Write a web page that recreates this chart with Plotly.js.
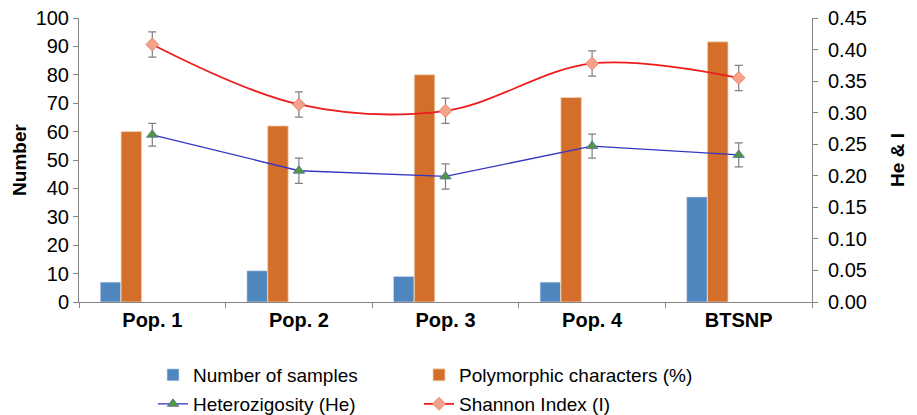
<!DOCTYPE html>
<html>
<head>
<meta charset="utf-8">
<script src="https://cdn.plot.ly/plotly-3.0.1.min.js"></script>
<style>html,body{margin:0;padding:0;background:#fff;}#chart{width:917px;height:415px;}</style>
</head>
<body>
<div id="chart"></div>
<script>
const categories = ["Pop. 1", "Pop. 2", "Pop. 3", "Pop. 4", "BTSNP"];
const numberOfSamples = [7, 11, 9, 7, 37];
const polymorphicChars = [60, 62, 80, 72, 91.6];
const heterozygosity = [0.265, 0.208, 0.199, 0.247, 0.233];
const heErr = [0.018, 0.020, 0.020, 0.019, 0.019];
const shannon = [0.408, 0.313, 0.303, 0.378, 0.355];
const shannonErr = [0.020, 0.020, 0.020, 0.020, 0.020];

const font = "'Liberation Sans', Arial, sans-serif";
const errStyle = {type: 'data', visible: true, color: '#7f7f7f', thickness: 1.2, width: 4};

const traces = [
  {type: 'bar', name: 'Number of samples', x: categories, y: numberOfSamples, legend: 'legend',
   width: 0.14, offset: -0.355, marker: {color: '#4F86BE', line: {color: '#dbe6f2', width: 0.6}}},
  {type: 'bar', name: 'Polymorphic characters (%)', x: categories, y: polymorphicChars, legend: 'legend2',
   width: 0.14, offset: -0.213, marker: {color: '#D36F2B', line: {color: '#f3d3b8', width: 0.8}}},
  {type: 'scatter', mode: 'lines+markers', name: 'Heterozigosity (He)', x: categories, y: heterozygosity,
   yaxis: 'y2', legend: 'legend3', line: {color: '#3535c4', width: 1.3},
   marker: {symbol: 'triangle-up', size: 10, color: '#4E9A40', line: {color: '#5a6aa0', width: 0.8}},
   error_y: Object.assign({array: heErr}, errStyle)},
  {type: 'scatter', mode: 'lines+markers', name: 'Shannon Index (I)', x: categories, y: shannon,
   yaxis: 'y2', legend: 'legend4', line: {color: '#ee1c1c', width: 1.8, shape: 'spline', smoothing: 1.0},
   marker: {symbol: 'diamond', size: 10, color: '#F4A38A', line: {color: '#e47a66', width: 0.8}},
   error_y: Object.assign({array: shannonErr}, errStyle)}
];

const legendBase = {orientation: 'h', xref: 'container', yref: 'container', xanchor: 'left', yanchor: 'middle',
  font: {family: font, size: 19, color: '#000'}, itemwidth: 30, bgcolor: 'rgba(0,0,0,0)'};
const col1 = 153 / 917, col2 = 419 / 917, row1 = 1 - 375 / 415, row2 = 1 - 404 / 415;

const layout = {
  width: 917, height: 415,
  margin: {l: 79, r: 105, t: 18, b: 113, autoexpand: false},
  paper_bgcolor: '#fff', plot_bgcolor: '#fff',
  font: {family: font, size: 20, color: '#000'},
  showlegend: true,
  barmode: 'overlay',
  xaxis: {type: 'category', range: [-0.5, 4.5], showline: true, linecolor: '#868686', linewidth: 1,
          ticks: 'outside', tickson: 'boundaries', ticklen: 5, tickcolor: '#868686',
          tickfont: {family: font, size: 20, color: '#000', weight: 'bold'}, showgrid: false, zeroline: false},
  yaxis: {range: [0, 100], dtick: 10, showline: true, linecolor: '#868686', ticks: 'outside', ticklen: 5,
          tickcolor: '#868686', showgrid: false, zeroline: false, tickfont: {size: 20},
          title: {text: '<b>Number</b>', font: {size: 19}, standoff: 3}},
  yaxis2: {range: [0, 0.45], dtick: 0.05, tickformat: '.2f', overlaying: 'y', side: 'right',
           showline: true, linecolor: '#868686', ticks: 'outside', ticklen: 5, tickcolor: '#868686',
           showgrid: false, zeroline: false, tickfont: {size: 20}, ticklabelstandoff: 6,
           title: {text: '<b>He &amp; I</b>', font: {size: 19}, standoff: 24}},
  legend: Object.assign({}, legendBase, {x: col1, y: row1}),
  legend2: Object.assign({}, legendBase, {x: col2, y: row1}),
  legend3: Object.assign({}, legendBase, {x: col1, y: row2}),
  legend4: Object.assign({}, legendBase, {x: col2, y: row2})
};

Plotly.newPlot('chart', traces, layout, {displayModeBar: false, staticPlot: true});
</script>
</body>
</html>
